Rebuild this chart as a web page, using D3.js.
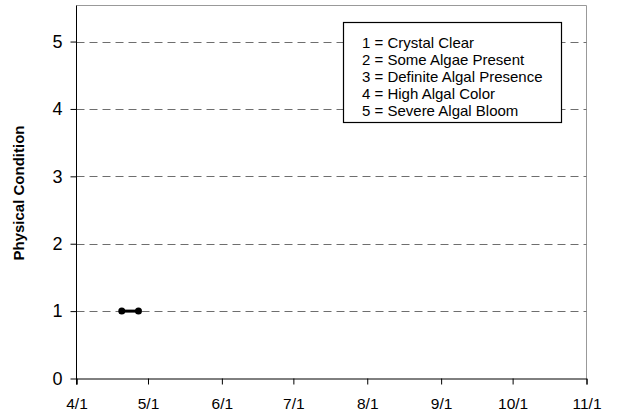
<!DOCTYPE html>
<html><head><meta charset="utf-8">
<script src="https://cdn.jsdelivr.net/npm/d3@7"></script>
<style>body{margin:0;background:#fff}svg{display:block;font-family:Arial,"Liberation Sans",sans-serif}</style>
</head><body><svg id="c" width="618" height="418"></svg>
<script>
const dates = ["2006-04-20","2006-04-27"];
const values = [1, 1];
const xTickLabels = ["4/1","5/1","6/1","7/1","8/1","9/1","10/1","11/1"];
const xTickDates = ["2006-04-01","2006-05-01","2006-06-01","2006-07-01","2006-08-01","2006-09-01","2006-10-01","2006-11-01"];
const yTicks = [0,1,2,3,4,5];
const legendLines = ["1 = Crystal Clear","2 = Some Algae Present","3 = Definite Algal Presence","4 = High Algal Color","5 = Severe Algal Bloom"];

const svg = d3.select("#c");
const parse = d3.timeParse("%Y-%m-%d");
const L=76.5, R=586.5, T=5.5, B=378.5;
const x = d3.scaleTime().domain([parse(xTickDates[0]), parse(xTickDates[xTickDates.length-1])]).range([L,R]);
const y = d3.scaleLinear().domain([0,5.535]).range([B,T]);
const FF = "Arial, 'Liberation Sans', sans-serif";

// frame top/right gray
svg.append("path").attr("d",`M${L},${T}H${R}V${B}`).attr("fill","none").attr("stroke","#999").attr("stroke-width",1);

// gridlines
svg.append("g").selectAll("line").data(yTicks.filter(d=>d>0)).join("line")
  .attr("x1",L).attr("x2",R).attr("y1",d=>Math.round(y(d))+0.5).attr("y2",d=>Math.round(y(d))+0.5)
  .attr("stroke","#6e6e6e").attr("stroke-width",1).attr("stroke-dasharray","8,5");

// axes
const xAxis = d3.axisBottom(x).tickValues(xTickDates.map(parse)).tickFormat((d,i)=>xTickLabels[i]).tickSizeOuter(0).tickSize(6).tickPadding(13);
const gx = svg.append("g").attr("transform",`translate(0,${B})`).call(xAxis);
gx.selectAll("text").attr("font-size",15.5).attr("font-family",FF).attr("fill","#000");
gx.select(".domain").attr("stroke","#000");
gx.selectAll(".tick line").attr("stroke","#000");

const yAxis = d3.axisLeft(y).tickValues(yTicks).tickFormat(d3.format("d")).tickSizeOuter(0).tickSize(6).tickPadding(8);
const gy = svg.append("g").attr("transform",`translate(${L},0)`).call(yAxis);
gy.selectAll("text").attr("font-size",18).attr("font-family",FF).attr("fill","#000");
gy.select(".domain").attr("stroke","#000").attr("d",`M0,${T}V${B+6}`);
gy.selectAll(".tick line").attr("stroke","#000");

// y label
svg.append("text").attr("transform",`translate(23.5,${(T+B)/2+1}) rotate(-90)`).attr("text-anchor","middle")
  .attr("font-size",15).attr("font-weight","bold").text("Physical Condition");

// data line + points
const pts = dates.map((d,i)=>({d:parse(d),v:values[i]}));
svg.append("path").datum(pts).attr("d",d3.line().x(p=>x(p.d)).y(p=>y(p.v)))
  .attr("fill","none").attr("stroke","#000").attr("stroke-width",3);
svg.append("g").selectAll("circle").data(pts).join("circle")
  .attr("cx",p=>x(p.d)).attr("cy",p=>y(p.v)).attr("r",3.5).attr("fill","#000");

// legend
const lg = svg.append("g");
lg.append("rect").attr("x",343.5).attr("y",22.5).attr("width",218).attr("height",100).attr("fill","#fff").attr("stroke","#000").attr("stroke-width",1.2);
lg.selectAll("text").data(legendLines).join("text").attr("x",362).attr("y",(d,i)=>47.5+i*17)
  .attr("font-size",15).text(d=>d);
</script></body></html>
